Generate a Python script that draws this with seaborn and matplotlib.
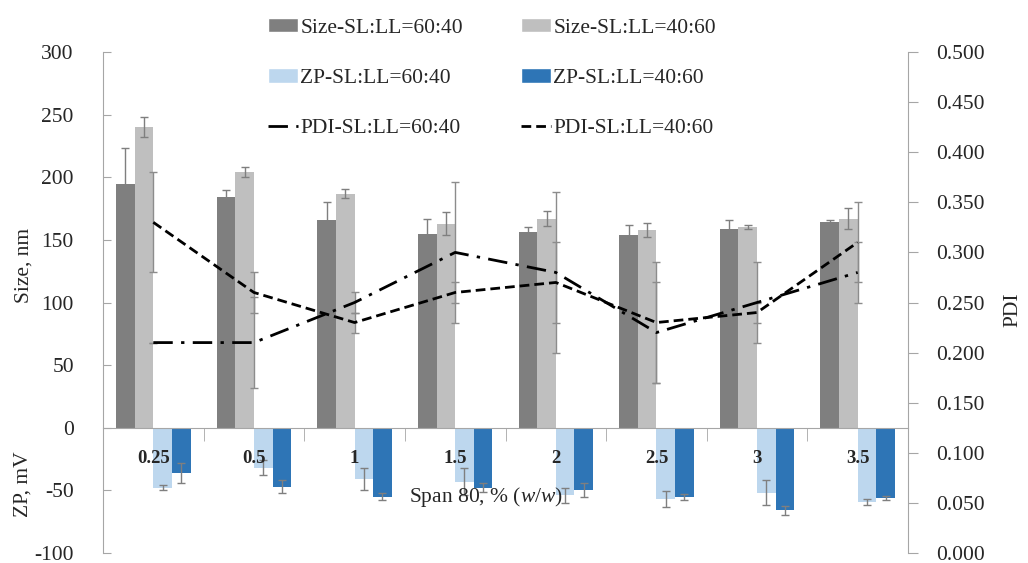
import numpy as np
import pandas as pd
import matplotlib
matplotlib.use("Agg")
import matplotlib.pyplot as plt
import seaborn as sns
from matplotlib.patches import Patch
from matplotlib.lines import Line2D

# ---------------- data ----------------
spans = ['0.25', '0.5', '1', '1.5', '2', '2.5', '3', '3.5']
size_6040 = [195, 184, 166, 155, 156, 154, 159, 164]
size_6040_err = [28, 6, 14, 12, 4, 7.5, 7, 2]
size_4060 = [240, 204, 187, 163, 167, 158, 160, 167]
size_4060_err = [8, 4, 3.5, 9, 6, 5.5, 1.5, 8.5]
zp_6040 = [-48, -32, -41, -43, -54, -57, -52, -59.5]
zp_6040_err = [2, 6, 9, 11, 6, 6.5, 10, 2.5]
zp_4060 = [-36, -47, -55, -48, -50, -55, -66, -56]
zp_4060_err = [8, 5, 3, 3.5, 5.5, 2.5, 3.5, 1.5]
pdi_6040 = [0.21, 0.21, 0.25, 0.30, 0.28, 0.22, 0.25, 0.28]
pdi_6040_err = [0, 0.045, 0.01, 0.07, 0.08, 0.05, 0.04, 0.03]
pdi_4060 = [0.33, 0.26, 0.23, 0.26, 0.27, 0.23, 0.24, 0.31]
pdi_4060_err = [0.05, 0.02, 0.01, 0.01, 0.04, 0.06, 0.01, 0.04]

series_names = ['Size-SL:LL=60:40', 'Size-SL:LL=40:60', 'ZP-SL:LL=60:40', 'ZP-SL:LL=40:60']
pdi_names = ['PDI-SL:LL=60:40', 'PDI-SL:LL=40:60']
colors = ['#7f7f7f', '#bfbfbf', '#bdd7ee', '#2e75b6']

bar_vals = [size_6040, size_4060, zp_6040, zp_4060]
bar_errs = [size_6040_err, size_4060_err, zp_6040_err, zp_4060_err]

rows = []
for name, vals in zip(series_names, bar_vals):
    for s, v in zip(spans, vals):
        rows.append({'span': s, 'value': v, 'series': name})
df = pd.DataFrame(rows)

# ---------------- style ----------------
sns.set_style("white")
plt.rcParams['font.family'] = ['Liberation Serif', 'DejaVu Serif']
plt.rcParams['axes.unicode_minus'] = False
plt.rcParams['mathtext.fontset'] = 'custom'
plt.rcParams['mathtext.rm'] = 'Liberation Serif'
plt.rcParams['mathtext.it'] = 'Liberation Serif:italic'
FS = 15.5
AXC = '#a6a6a6'
DASHDOT = (0, (7, 3, 1.2, 3))
DASHED = (0, (3.5, 1.8))

fig = plt.figure(figsize=(10.28, 5.63), dpi=100)
ax = fig.add_axes([103 / 1028, 1 - 553 / 563, (908 - 103) / 1028, (553 - 52) / 563])

sns.barplot(data=df, x='span', y='value', hue='series', order=spans,
            hue_order=series_names, palette=colors, width=0.74,
            saturation=1, errorbar=None, legend=False, ax=ax, linewidth=0)

# error bars at bar ends
for cont, errs in zip(ax.containers, bar_errs):
    xs = [p.get_x() + p.get_width() / 2 for p in cont.patches]
    ys = [p.get_y() + p.get_height() for p in cont.patches]
    ax.errorbar(xs, ys, yerr=errs, fmt='none', ecolor='#7f7f7f',
                elinewidth=1, capsize=3, capthick=1, zorder=5)

ax.set_axisbelow(False)
ax.set_ylim(-100, 300)
ax.set_xlim(-0.5, len(spans) - 0.5)
ax.set_yticks(np.arange(-100, 301, 50))
ax.set_ylabel('')
ax.set_xlabel('')

for sp in ['top', 'right']:
    ax.spines[sp].set_visible(False)
ax.spines['left'].set_color(AXC)
ax.spines['bottom'].set_position(('data', 0))
ax.spines['bottom'].set_color(AXC)
ax.tick_params(axis='y', direction='in', length=6, color=AXC, labelsize=FS,
               left=True, pad=21)
ax.set_xticks(np.arange(len(spans)))
ax.set_xticklabels(spans, fontweight='bold', fontsize=13.5)
ax.set_xticks(np.arange(0.5, len(spans) - 0.5, 1), minor=True)
ax.tick_params(axis='x', which='major', length=0, pad=16, bottom=True)
ax.tick_params(axis='x', which='minor', length=9, color=AXC, direction='out', bottom=True)
ax.xaxis.set_zorder(8)

# PDI on secondary axis
ax2 = ax.twinx()
xpos = np.arange(len(spans))
ax2.errorbar(xpos, pdi_6040, yerr=pdi_6040_err, fmt='none', ecolor='#8c8c8c',
             elinewidth=1, capsize=3, capthick=1, zorder=3)
ax2.errorbar(xpos, pdi_4060, yerr=pdi_4060_err, fmt='none', ecolor='#8c8c8c',
             elinewidth=1, capsize=3, capthick=1, zorder=3)
sns.lineplot(x=xpos, y=pdi_6040, ax=ax2, color='black', lw=2,
             linestyle=DASHDOT, zorder=6)
sns.lineplot(x=xpos, y=pdi_4060, ax=ax2, color='black', lw=2,
             linestyle=DASHED, zorder=6)
ax2.set_ylim(0, 0.5)
ax2.set_xlim(-0.5, len(spans) - 0.5)
ax2.set_yticks(np.arange(0, 0.501, 0.05))
ax2.set_yticklabels([f'{v:.3f}' for v in np.arange(0, 0.501, 0.05)])
for sp in ['top', 'left', 'bottom']:
    ax2.spines[sp].set_visible(False)
ax2.spines['right'].set_color(AXC)
ax2.tick_params(axis='y', direction='out', length=7, color=AXC, labelsize=FS,
                right=True, pad=13)
ax2.set_ylabel('')

# axis titles
fig.text(24 / 1028, 1 - 265 / 563, 'Size, nm', rotation=90, ha='center', va='center', fontsize=FS)
fig.text(23 / 1028, 1 - 484 / 563, 'ZP, mV', rotation=90, ha='center', va='center', fontsize=FS)
fig.text(1013 / 1028, 1 - 310 / 563, 'PDI', rotation=90, ha='center', va='center', fontsize=FS)
fig.text(486 / 1028, 1 - 497 / 563, r'Span 80, % ($\mathit{w/w}$)', ha='center', va='center', fontsize=FS)

# legend
handles = [Patch(facecolor=colors[0]), Patch(facecolor=colors[2]),
           Line2D([], [], color='black', lw=2, linestyle=DASHDOT),
           Patch(facecolor=colors[1]), Patch(facecolor=colors[3]),
           Line2D([], [], color='black', lw=2, linestyle=DASHED)]
labels = [series_names[0], series_names[2], pdi_names[0],
          series_names[1], series_names[3], pdi_names[1]]
fig.legend(handles, labels, loc='upper left', bbox_to_anchor=(268 / 1028, 1 - 18 / 563),
           ncol=2, frameon=False, fontsize=FS, handlelength=1.4, handleheight=0.65,
           handletextpad=0.1, columnspacing=2.7, labelspacing=1.42, borderpad=0,
           borderaxespad=0)

fig.savefig('out.png', dpi=100)
